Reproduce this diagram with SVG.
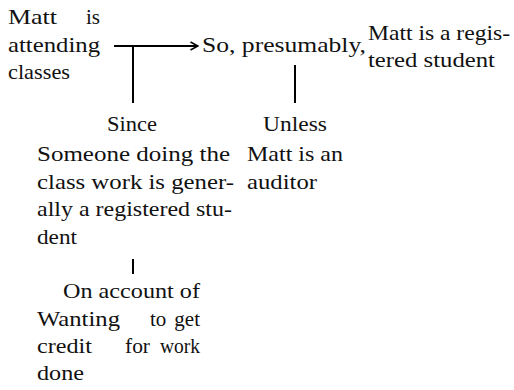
<svg xmlns="http://www.w3.org/2000/svg" width="514" height="390" viewBox="0 0 514 390" font-family="'Liberation Serif', 'DejaVu Serif', 'Times New Roman', Times, serif">
<defs>
<style>
text{font-size:21px;fill:#111;}
.e{text-anchor:end;}
.ln{stroke:#000;stroke-width:2;fill:none;}
</style>
<marker id="arr" markerUnits="userSpaceOnUse" viewBox="0 0 10 10" refX="9" refY="5" markerWidth="10" markerHeight="10" orient="auto">
<path d="M1.5,1 L9,5 L1.5,9" fill="none" stroke="#000" stroke-width="1.6"/>
</marker>
</defs>
<rect width="514" height="390" fill="#fff"/>
<g id="connectors">
<line class="ln" x1="114" y1="46" x2="198" y2="46" marker-end="url(#arr)"/>
<line class="ln" x1="133" y1="45" x2="133" y2="103"/>
<line class="ln" x1="295" y1="65" x2="295" y2="103"/>
<line class="ln" x1="133" y1="259" x2="133" y2="274"/>
</g>
<g id="premise">
<text x="8" y="24" textLength="49" lengthAdjust="spacingAndGlyphs">Matt</text>
<text x="100" y="24" class="e">is</text>
<text x="8" y="51.5" textLength="92" lengthAdjust="spacingAndGlyphs">attending</text>
<text x="8" y="79" textLength="62" lengthAdjust="spacingAndGlyphs">classes</text>
</g>
<g id="qualifier">
<text x="202" y="52" textLength="164" lengthAdjust="spacingAndGlyphs">So, presumably,</text>
</g>
<g id="conclusion">
<text x="368" y="40" textLength="142" lengthAdjust="spacingAndGlyphs">Matt is a regis-</text>
<text x="368" y="67" textLength="127" lengthAdjust="spacingAndGlyphs">tered student</text>
</g>
<g id="warrant">
<text x="107" y="131" textLength="50" lengthAdjust="spacingAndGlyphs">Since</text>
<text x="37" y="161" textLength="193" lengthAdjust="spacingAndGlyphs">Someone doing the</text>
<text x="37" y="188.5" textLength="197" lengthAdjust="spacingAndGlyphs">class work is gener-</text>
<text x="37" y="216" textLength="195" lengthAdjust="spacingAndGlyphs">ally a registered stu-</text>
<text x="37" y="243.5" textLength="40" lengthAdjust="spacingAndGlyphs">dent</text>
</g>
<g id="rebuttal">
<text x="263" y="131" textLength="64" lengthAdjust="spacingAndGlyphs">Unless</text>
<text x="247" y="161" textLength="96" lengthAdjust="spacingAndGlyphs">Matt is an</text>
<text x="247" y="188.5" textLength="70" lengthAdjust="spacingAndGlyphs">auditor</text>
</g>
<g id="backing">
<text x="63" y="298" textLength="137" lengthAdjust="spacingAndGlyphs">On account of</text>
<text x="37" y="326" textLength="83" lengthAdjust="spacingAndGlyphs">Wanting</text>
<text x="150" y="326">to</text>
<text x="200" y="326" class="e">get</text>
<text x="37" y="353" textLength="55" lengthAdjust="spacingAndGlyphs">credit</text>
<text x="125" y="353" textLength="25" lengthAdjust="spacingAndGlyphs">for</text>
<text x="160" y="353" textLength="40" lengthAdjust="spacingAndGlyphs">work</text>
<text x="37" y="380" textLength="47" lengthAdjust="spacingAndGlyphs">done</text>
</g>
</svg>
